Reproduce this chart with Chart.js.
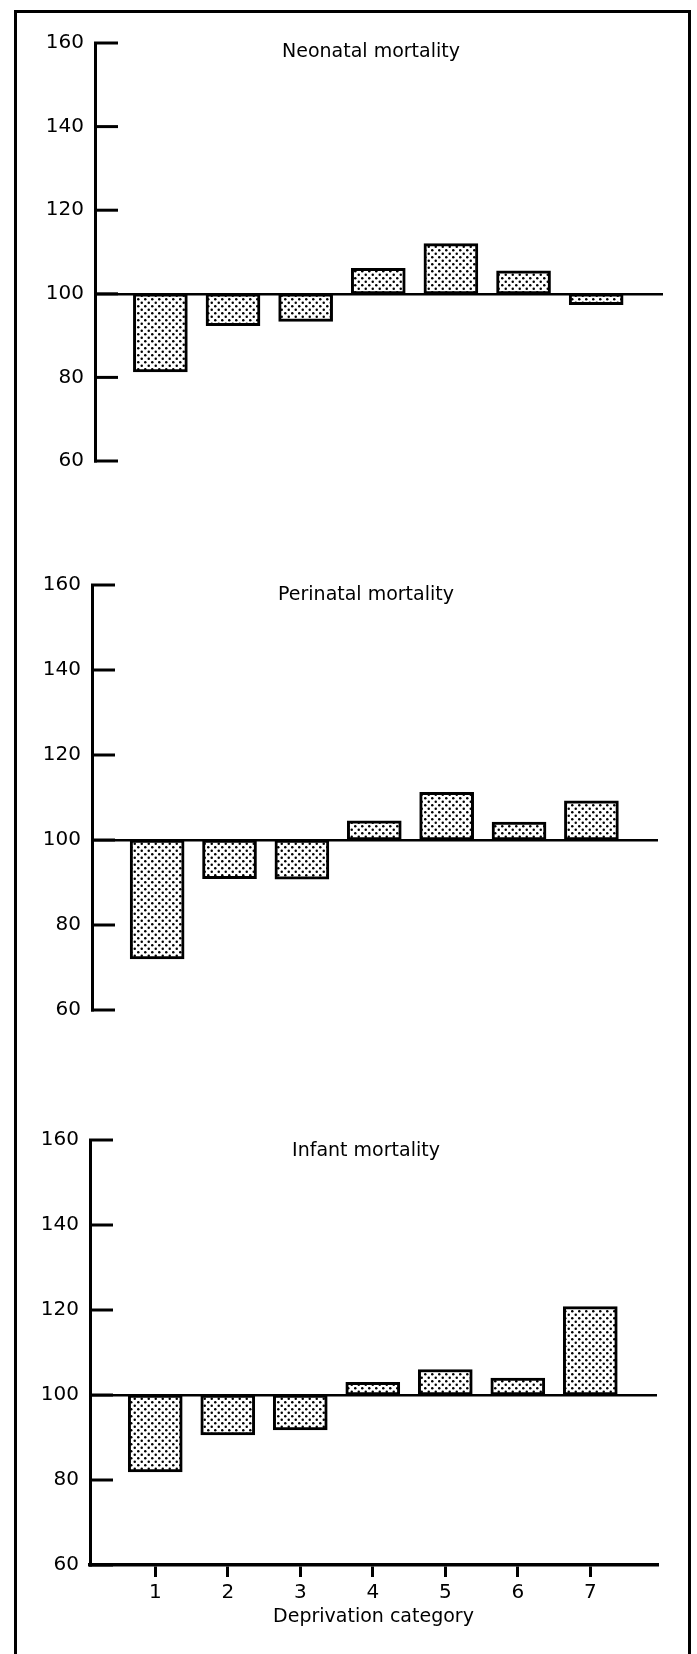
<!DOCTYPE html>
<html>
<head>
<meta charset="utf-8">
<script src="https://cdn.jsdelivr.net/npm/chart.js@4.4.1/dist/chart.umd.min.js"></script>
<style>
  body { margin: 0; background: #fff; width: 697px; height: 1654px; position: relative; overflow: hidden; font-family: "DejaVu Sans", sans-serif; }
  #frame { position: absolute; left: 14px; top: 10px; width: 671px; height: 1700px; border: 3px solid #000; }
  canvas { position: absolute; left: 0; }
  .ttl { position: absolute; font-size: 19px; color: #000; transform: translate(-50%, -50%); white-space: nowrap; }
</style>
</head>
<body>
<div id="frame"></div>
<canvas id="c1"></canvas>
<canvas id="c2"></canvas>
<canvas id="c3"></canvas>
<div class="ttl" id="t1"></div>
<div class="ttl" id="t2"></div>
<div class="ttl" id="t3"></div>
<script>
// values (ratio, 100 = average)
const categories = ["1", "2", "3", "4", "5", "6", "7"];
const neonatal = [81.3, 92.4, 93.4, 106.1, 112.0, 105.5, 97.4];
const perinatal = [72.0, 90.9, 90.8, 104.5, 111.2, 104.2, 109.2];
const infant = [81.9, 90.6, 91.8, 103.0, 106.0, 104.0, 120.8];
const yTicks = [60, 80, 100, 120, 140, 160];
const reference = 100;
const panelTitles = ["Neonatal mortality", "Perinatal mortality", "Infant mortality"];
const xTitle = "Deprivation category";

const FONT = "DejaVu Sans";

// page layout of the three panels
const panels = [
    { id: "c1", title: "t1", top: 0, height: 520, axisX: 95, right: 663, y160: 43, y60: 461, tx: 371, ty: 50 },
    { id: "c2", title: "t2", top: 520, height: 520, axisX: 92, right: 658, y160: 65, y60: 490, tx: 366, ty: 593 },
    { id: "c3", title: "t3", top: 1040, height: 614, axisX: 90, right: 657, y160: 100, y60: 525, tx: 366, ty: 1149, xAxis: true }
];
const series = [neonatal, perinatal, infant];

function dotPattern(ctx) {
    const tile = document.createElement("canvas");
    tile.width = 7;
    tile.height = 7;
    const g = tile.getContext("2d");
    g.fillStyle = "#fff";
    g.fillRect(0, 0, 7, 7);
    g.fillStyle = "#000";
    [[1.75, 1.75], [5.25, 5.25]].forEach(([x, y]) => {
        g.beginPath();
        g.arc(x, y, 1.25, 0, Math.PI * 2);
        g.fill();
    });
    return ctx.createPattern(tile, "repeat");
}

// tick marks pointing into the plot, as in the original
const inwardTicks = {
    id: "inwardTicks",
    afterDatasetsDraw(chart) {
        const { ctx, chartArea, scales: { y } } = chart;
        ctx.save();
        ctx.strokeStyle = "#000";
        ctx.lineWidth = 3;
        y.ticks.forEach(t => {
            const py = y.getPixelForValue(t.value);
            ctx.beginPath();
            ctx.moveTo(chartArea.left - 1, py);
            ctx.lineTo(chartArea.left + 23, py);
            ctx.stroke();
        });
        ctx.restore();
    }
};

panels.forEach((p, idx) => {

    const canvas = document.getElementById(p.id);
    canvas.width = 697;
    canvas.height = p.height;
    canvas.style.top = p.top + "px";

    const t = document.getElementById(p.title);
    t.textContent = panelTitles[idx];
    t.style.left = p.tx + "px";
    t.style.top = p.ty + "px";

    const values = series[idx];
    const axisH = p.xAxis ? 70 : 0;

    new Chart(canvas, {
        type: "bar",
        data: {
            datasets: [{
                data: categories.map((c, i) => ({ x: Number(c), y: [reference, values[i]] })),
                backgroundColor: dotPattern(canvas.getContext("2d")),
                borderColor: "#000",
                borderWidth: 3,
                borderSkipped: false,
                barThickness: 54
            }]
        },
        options: {
            responsive: false,
            animation: false,
            events: [],
            layout: {
                padding: {
                    left: 0,
                    right: 697 - p.right,
                    top: p.y160,
                    bottom: p.height - p.y60 - axisH
                }
            },
            plugins: { legend: { display: false }, tooltip: { enabled: false } },
            scales: {
                x: {
                    type: "linear",
                    min: 0.1,
                    max: 7.92,
                    offset: false,
                    display: !!p.xAxis,
                    afterBuildTicks: s => { s.ticks = categories.map(c => ({ value: Number(c) })); },
                    afterFit: s => { s.height = axisH; },
                    ticks: {
                        callback: v => categories[v - 1],
                        font: { family: FONT, size: 20 },
                        color: "#000",
                        padding: 4,
                        maxRotation: 0,
                        autoSkip: false
                    },
                    grid: { offset: false, drawOnChartArea: false, tickLength: 12, lineWidth: 3, color: "#000" },
                    border: { display: true, width: 3.5, color: "#000" },
                    title: {
                        display: true,
                        text: xTitle,
                        font: { family: FONT, size: 19 },
                        color: "#000",
                        padding: { top: 0, bottom: 6.6 }
                    }
                },
                y: {
                    min: 60,
                    max: 160,
                    afterBuildTicks: s => { s.ticks = yTicks.map(v => ({ value: v })); },
                    afterFit: s => { s.width = p.axisX; },
                    ticks: { font: { family: FONT, size: 20 }, color: "#000", padding: 11 },
                    grid: {
                        drawTicks: false,
                        lineWidth: 2.5,
                        color: c => (c.tick && c.tick.value === reference ? "#000" : "rgba(0,0,0,0)")
                    },
                    border: { display: true, width: 3, color: "#000" }
                }
            }
        },
        plugins: [inwardTicks]
    });

});
</script>
</body>
</html>
